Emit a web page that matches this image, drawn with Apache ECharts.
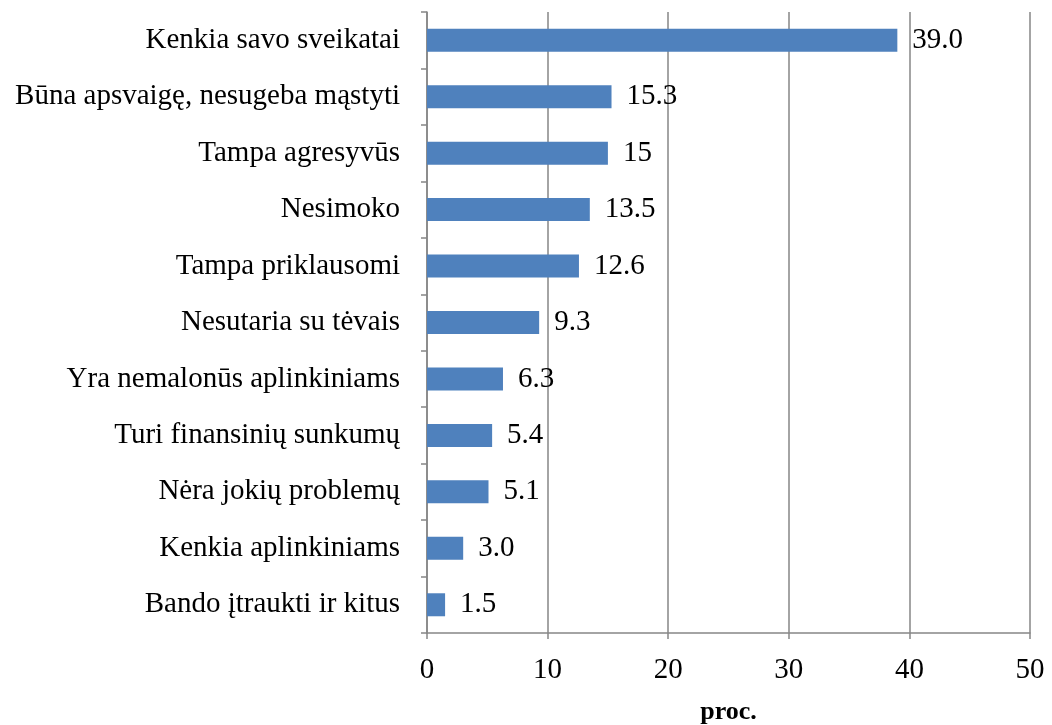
<!DOCTYPE html>
<html>
<head>
<meta charset="utf-8">
<script src="https://cdn.jsdelivr.net/npm/echarts@6/dist/echarts.min.js"></script>
<style>
    html, body { margin: 0; padding: 0; background: #fff; }
    #main { width: 1052px; height: 725px; }
</style>
</head>
<body>
<div id="main"></div>
<script>
// 类别与数值
var categories = [
    'Kenkia savo sveikatai',
    'Būna apsvaigę, nesugeba mąstyti',
    'Tampa agresyvūs',
    'Nesimoko',
    'Tampa priklausomi',
    'Nesutaria su tėvais',
    'Yra nemalonūs aplinkiniams',
    'Turi finansinių sunkumų',
    'Nėra jokių problemų',
    'Kenkia aplinkiniams',
    'Bando įtraukti ir kitus'
];
var values = [39.0, 15.3, 15, 13.5, 12.6, 9.3, 6.3, 5.4, 5.1, 3.0, 1.5];
var valueLabels = ['39.0', '15.3', '15', '13.5', '12.6', '9.3', '6.3', '5.4', '5.1', '3.0', '1.5'];
var xTicks = [0, 10, 20, 30, 40, 50];

var myChart = echarts.init(document.getElementById('main'));
var font = '"Liberation Serif", "Times New Roman", serif';
var gray = '#868686';

var option = {
    animation: false,
    grid: {
        left: 427,
        right: 22,
        top: 12,
        bottom: 92,
        outerBoundsMode: 'none'
    },
    xAxis: {
        type: 'value',
        min: xTicks[0],
        max: xTicks[xTicks.length - 1],
        interval: 10,
        name: 'proc.',
        nameLocation: 'middle',
        nameGap: 66,
        nameTextStyle: {
            fontFamily: font,
            fontSize: 26,
            fontWeight: 'bold',
            color: '#000'
        },
        axisLine: { show: true, lineStyle: { color: gray, width: 1.5 } },
        axisTick: { show: true, length: 6, lineStyle: { color: gray, width: 1.5 } },
        axisLabel: {
            margin: 23,
            fontFamily: font,
            fontSize: 29,
            color: '#000'
        },
        splitLine: { show: true, lineStyle: { color: gray, width: 1.5 } }
    },
    yAxis: {
        type: 'category',
        inverse: true,
        data: categories,
        axisLine: { show: true, lineStyle: { color: gray, width: 1.5 } },
        axisTick: { show: true, length: 6, lineStyle: { color: gray, width: 1.5 } },
        axisLabel: {
            margin: 27,
            fontFamily: font,
            fontSize: 29,
            color: '#000'
        },
        splitLine: { show: false }
    },
    series: [
        {
            type: 'bar',
            data: values,
            barWidth: 23,
            itemStyle: { color: '#4F81BD' },
            label: {
                show: true,
                position: 'right',
                distance: 15,
                fontFamily: font,
                fontSize: 29,
                color: '#000',
                formatter: function (p) {
                    return valueLabels[p.dataIndex];
                }
            }
        }
    ]
};

myChart.setOption(option);
</script>
</body>
</html>
